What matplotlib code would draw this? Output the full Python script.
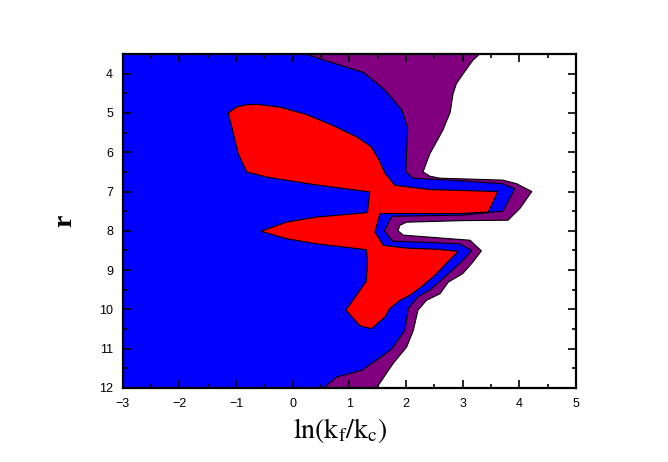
import matplotlib
matplotlib.use('Agg')
import matplotlib.pyplot as plt
from matplotlib.ticker import MultipleLocator

plt.rcParams['mathtext.fontset'] = 'stix'

# boundary of the purple region (purple/white edge), in (ln(kf/kc), r)
purple_x = [3.30, 3.18, 3.01, 2.89, 2.83, 2.78, 2.65, 2.42, 2.30, 2.42, 2.60, 3.71, 3.95, 4.22,
            4.01, 3.80, 3.00, 2.01, 1.89, 1.86, 1.95, 3.13, 3.33, 3.16, 3.00, 2.75, 2.60, 2.36,
            2.21, 2.13, 2.01, 1.77, 1.48, -3.0, -3.0]
purple_y = [3.50, 3.66, 4.00, 4.25, 4.51, 4.98, 5.44, 6.04, 6.50, 6.61, 6.66, 6.71, 6.80, 7.00,
            7.43, 7.73, 7.74, 7.78, 7.86, 8.00, 8.11, 8.24, 8.51, 8.83, 9.09, 9.30, 9.60, 9.77,
            10.02, 10.53, 10.96, 11.38, 12.0, 12.0, 3.50]

# blue/purple edge
blue_x = [0.22, 0.72, 1.25, 1.60, 1.71, 1.93, 2.03, 2.01, 2.00, 2.13, 3.00, 3.70, 3.92, 3.71,
          3.00, 1.75, 1.62, 1.76, 2.95, 3.16, 2.98, 2.65, 2.42, 2.21, 2.04, 1.98, 1.74, 1.48,
          1.22, 0.78, 0.54, -3.0, -3.0]
blue_y = [3.50, 3.73, 3.97, 4.38, 4.55, 4.93, 5.38, 6.00, 6.50, 6.66, 6.73, 6.80, 6.93, 7.50,
          7.60, 7.63, 8.00, 8.26, 8.33, 8.50, 8.79, 9.22, 9.51, 9.68, 9.98, 10.53, 11.02, 11.29,
          11.55, 11.72, 12.0, 12.0, 3.50]

# red island
red_x = [-1.135, -0.99, -0.81, -0.64, -0.23, 0.245, 0.71, 1.13, 1.39, 1.51, 1.63, 1.80, 2.42,
         3.62, 3.45, 2.95, 1.54, 1.45, 1.60, 2.01, 2.54, 2.92, 2.71, 2.54, 2.30, 2.07, 1.89,
         1.71, 1.63, 1.39, 1.19, 0.94, 1.30, 1.32, 1.30, 0.42, -0.11, -0.56, -0.11, 0.42, 1.30,
         1.32, 1.36, 0.36, -0.46, -0.81, -0.96]
red_y = [5.00, 4.85, 4.79, 4.78, 4.85, 5.04, 5.32, 5.61, 5.87, 6.16, 6.54, 6.84, 6.95,
         7.00, 7.52, 7.56, 7.56, 8.03, 8.37, 8.44, 8.47, 8.52, 8.83, 9.09, 9.39, 9.64, 9.77,
         9.98, 10.19, 10.49, 10.42, 10.02, 9.28, 8.75, 8.48, 8.33, 8.20, 8.01, 7.78, 7.65, 7.54,
         7.53, 7.01, 6.82, 6.63, 6.50, 6.04]

x_ticks = [-3, -2, -1, 0, 1, 2, 3, 4, 5]
y_ticks = [4, 5, 6, 7, 8, 9, 10, 11, 12]

fig = plt.figure(figsize=(6.68, 4.62), dpi=100)
ax = fig.add_axes([0.1837, 0.1602, 0.6786, 0.7229])

ax.fill(purple_x, purple_y, facecolor='#800080', edgecolor='black', linewidth=0.8)
ax.fill(blue_x, blue_y, facecolor='#0000ff', edgecolor='black', linewidth=0.8)
ax.fill(red_x, red_y, facecolor='#ff0000', edgecolor='black', linewidth=0.8)

ax.set_xlim(-3, 5)
ax.set_ylim(12, 3.5)
ax.set_xticks(x_ticks)
ax.set_yticks(y_ticks)
ax.xaxis.set_minor_locator(MultipleLocator(0.5))
ax.yaxis.set_minor_locator(MultipleLocator(0.5))
ax.tick_params(which='both', direction='in', top=True, right=True, width=1.2,
               labelsize=9, labelfontfamily='Liberation Sans')
ax.tick_params(which='major', length=6, pad=7)
ax.tick_params(which='minor', length=3)
for s in ax.spines.values():
    s.set_linewidth(1.6)

ax.set_xlabel(r'$\mathrm{ln(k_f/k_c)}$', fontsize=20)
ax.xaxis.set_label_coords(0.48, -0.085, transform=ax.transAxes)
ax.xaxis.label.set_va('top')
ax.set_ylabel('r', fontsize=20, fontweight='bold', family='Liberation Serif', labelpad=16)

fig.savefig('out.png', dpi=100)
